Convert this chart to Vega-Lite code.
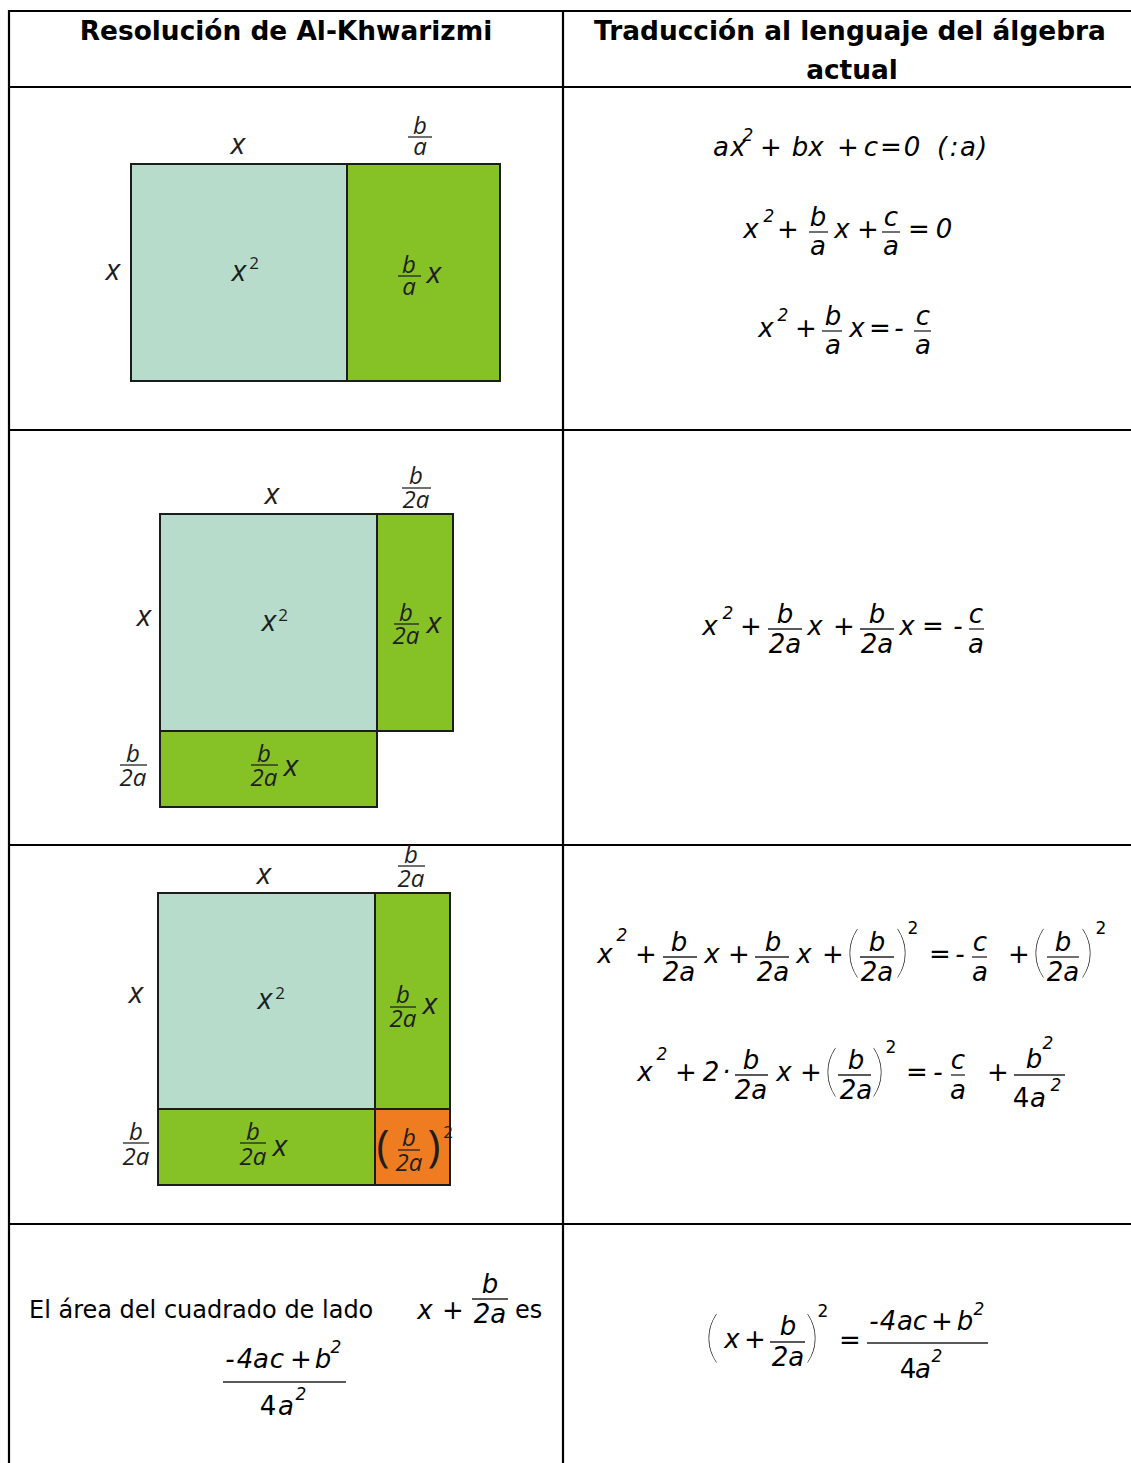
{
"$schema":"https://vega.github.io/schema/vega-lite/v6.json",
"width":1131,"height":1463,"padding":0,"autosize":{"type":"none"},
"background":"white",
"config":{"view":{"stroke":null}},
"data":{"values":[
{"role":"grid","x":8,"x2":1131,"y":11,"y2":11},
{"role":"grid","x":9,"x2":9,"y":10,"y2":1463},
{"role":"grid","x":563,"x2":563,"y":10,"y2":1463},
{"role":"grid","x":8,"x2":1131,"y":87,"y2":87},
{"role":"grid","x":8,"x2":1131,"y":430,"y2":430},
{"role":"grid","x":8,"x2":1131,"y":845,"y2":845},
{"role":"grid","x":8,"x2":1131,"y":1224,"y2":1224},
{"role":"box","part":"light","x":131,"x2":347,"y":164,"y2":381},
{"role":"box","part":"green","x":347,"x2":500,"y":164,"y2":381},
{"role":"box","part":"light","x":160,"x2":377,"y":514,"y2":731},
{"role":"box","part":"green","x":377,"x2":453,"y":514,"y2":731},
{"role":"box","part":"green","x":160,"x2":377,"y":731,"y2":807},
{"role":"box","part":"light","x":158,"x2":375,"y":893,"y2":1109},
{"role":"box","part":"green","x":375,"x2":450,"y":893,"y2":1109},
{"role":"box","part":"green","x":158,"x2":375,"y":1109,"y2":1185},
{"role":"box","part":"orange","x":375,"x2":450,"y":1109,"y2":1185},
{"role":"head","x":286,"y":40,"t":"Resolución de Al-Khwarizmi"},
{"role":"head","x":850,"y":40,"t":"Traducción al lenguaje del álgebra"},
{"role":"head","x":852,"y":79,"t":"actual"},
{"role":"dg","x":238,"y":154,"t":"x"},
{"role":"dgf","x":420,"y":134,"t":"b"},
{"role":"bar","x":408,"x2":432,"y":137},
{"role":"dgf","x":420,"y":155,"t":"a"},
{"role":"dg","x":113,"y":280,"t":"x"},
{"role":"dg","x":239,"y":281,"t":"x"},
{"role":"dsup","x":254,"y":269,"t":"2"},
{"role":"dgf","x":409,"y":273,"t":"b"},
{"role":"bar","x":398,"x2":421,"y":276},
{"role":"dgf","x":409,"y":295,"t":"a"},
{"role":"dg","x":434,"y":283,"t":"x"},
{"role":"dg","x":272,"y":504,"t":"x"},
{"role":"dgf","x":416,"y":484,"t":"b"},
{"role":"bar","x":402,"x2":431,"y":488},
{"role":"dgf","x":416,"y":508,"t":"2a"},
{"role":"dg","x":144,"y":626,"t":"x"},
{"role":"dg","x":269,"y":631,"t":"x"},
{"role":"dsup","x":283,"y":621,"t":"2"},
{"role":"dgf","x":406,"y":621,"t":"b"},
{"role":"bar","x":394,"x2":419,"y":624},
{"role":"dgf","x":406,"y":644,"t":"2a"},
{"role":"dg","x":434,"y":633,"t":"x"},
{"role":"dgf","x":133,"y":762,"t":"b"},
{"role":"bar","x":120,"x2":147,"y":765},
{"role":"dgf","x":133,"y":786,"t":"2a"},
{"role":"dgf","x":264,"y":762,"t":"b"},
{"role":"bar","x":251,"x2":278,"y":765},
{"role":"dgf","x":264,"y":786,"t":"2a"},
{"role":"dg","x":291,"y":776,"t":"x"},
{"role":"dg","x":264,"y":884,"t":"x"},
{"role":"dgf","x":411,"y":863,"t":"b"},
{"role":"bar","x":398,"x2":425,"y":866},
{"role":"dgf","x":411,"y":887,"t":"2a"},
{"role":"dg","x":136,"y":1003,"t":"x"},
{"role":"dg","x":265,"y":1009,"t":"x"},
{"role":"dsup","x":280,"y":999,"t":"2"},
{"role":"dgf","x":403,"y":1003,"t":"b"},
{"role":"bar","x":390,"x2":416,"y":1007},
{"role":"dgf","x":403,"y":1027,"t":"2a"},
{"role":"dg","x":430,"y":1014,"t":"x"},
{"role":"dgf","x":136,"y":1140,"t":"b"},
{"role":"bar","x":123,"x2":149,"y":1143},
{"role":"dgf","x":136,"y":1165,"t":"2a"},
{"role":"dgf","x":253,"y":1140,"t":"b"},
{"role":"bar","x":240,"x2":266,"y":1143},
{"role":"dgf","x":253,"y":1165,"t":"2a"},
{"role":"dg","x":280,"y":1156,"t":"x"},
{"role":"dpar","x":383,"y":1161,"t":"("},
{"role":"dgf","x":409,"y":1146,"t":"b"},
{"role":"bar","x":398,"x2":420,"y":1150},
{"role":"dgf","x":409,"y":1171,"t":"2a"},
{"role":"dpar","x":434,"y":1161,"t":")"},
{"role":"dsup","x":448,"y":1138,"t":"2"},
{"role":"eq","x":721,"y":156,"t":"a"},
{"role":"eq","x":738,"y":156,"t":"x"},
{"role":"esup","x":748,"y":141,"t":"2"},
{"role":"eq","x":771,"y":156,"t":"+"},
{"role":"eq","x":800,"y":156,"t":"b"},
{"role":"eq","x":816,"y":156,"t":"x"},
{"role":"eq","x":848,"y":156,"t":"+"},
{"role":"eq","x":871,"y":156,"t":"c"},
{"role":"eq","x":891,"y":156,"t":"="},
{"role":"eq","x":912,"y":156,"t":"0"},
{"role":"eq","x":942,"y":156,"t":"("},
{"role":"eq","x":954,"y":156,"t":":"},
{"role":"eq","x":968,"y":156,"t":"a"},
{"role":"eq","x":982,"y":156,"t":")"},
{"role":"eq","x":751,"y":238,"t":"x"},
{"role":"esup","x":769,"y":222,"t":"2"},
{"role":"eq","x":788,"y":238,"t":"+"},
{"role":"eq","x":818,"y":226,"t":"b"},
{"role":"bar","x":809,"x2":828,"y":232},
{"role":"eq","x":818,"y":255,"t":"a"},
{"role":"eq","x":842,"y":238,"t":"x"},
{"role":"eq","x":868,"y":238,"t":"+"},
{"role":"eq","x":891,"y":226,"t":"c"},
{"role":"bar","x":882,"x2":900,"y":232},
{"role":"eq","x":891,"y":255,"t":"a"},
{"role":"eq","x":919,"y":238,"t":"="},
{"role":"eq","x":944,"y":238,"t":"0"},
{"role":"eq","x":766,"y":337,"t":"x"},
{"role":"esup","x":783,"y":321,"t":"2"},
{"role":"eq","x":806,"y":337,"t":"+"},
{"role":"eq","x":833,"y":325,"t":"b"},
{"role":"bar","x":822,"x2":842,"y":331},
{"role":"eq","x":833,"y":354,"t":"a"},
{"role":"eq","x":857,"y":337,"t":"x"},
{"role":"eq","x":880,"y":337,"t":"="},
{"role":"eq","x":899,"y":337,"t":"-"},
{"role":"eq","x":923,"y":325,"t":"c"},
{"role":"bar","x":914,"x2":931,"y":331},
{"role":"eq","x":923,"y":354,"t":"a"},
{"role":"eq","x":710,"y":635,"t":"x"},
{"role":"esup","x":728,"y":619,"t":"2"},
{"role":"eq","x":751,"y":635,"t":"+"},
{"role":"eq","x":785,"y":623,"t":"b"},
{"role":"bar","x":768,"x2":802,"y":629},
{"role":"eq","x":785,"y":653,"t":"2a"},
{"role":"eq","x":815,"y":635,"t":"x"},
{"role":"eq","x":844,"y":635,"t":"+"},
{"role":"eq","x":877,"y":623,"t":"b"},
{"role":"bar","x":860,"x2":894,"y":629},
{"role":"eq","x":877,"y":653,"t":"2a"},
{"role":"eq","x":907,"y":635,"t":"x"},
{"role":"eq","x":933,"y":635,"t":"="},
{"role":"eq","x":958,"y":635,"t":"-"},
{"role":"eq","x":976,"y":623,"t":"c"},
{"role":"bar","x":969,"x2":984,"y":629},
{"role":"eq","x":976,"y":653,"t":"a"},
{"role":"eq","x":605,"y":963,"t":"x"},
{"role":"esup","x":622,"y":941,"t":"2"},
{"role":"eq","x":646,"y":963,"t":"+"},
{"role":"eq","x":679,"y":951,"t":"b"},
{"role":"bar","x":663,"x2":697,"y":957},
{"role":"eq","x":679,"y":981,"t":"2a"},
{"role":"eq","x":712,"y":963,"t":"x"},
{"role":"eq","x":739,"y":963,"t":"+"},
{"role":"eq","x":773,"y":951,"t":"b"},
{"role":"bar","x":755,"x2":789,"y":957},
{"role":"eq","x":773,"y":981,"t":"2a"},
{"role":"eq","x":804,"y":963,"t":"x"},
{"role":"eq","x":833,"y":963,"t":"+"},
{"role":"epar","x":853,"y":971,"t":"("},
{"role":"eq","x":877,"y":951,"t":"b"},
{"role":"bar","x":860,"x2":894,"y":957},
{"role":"eq","x":877,"y":981,"t":"2a"},
{"role":"epar","x":902,"y":971,"t":")"},
{"role":"eusup","x":913,"y":934,"t":"2"},
{"role":"eq","x":940,"y":963,"t":"="},
{"role":"eq","x":960,"y":963,"t":"-"},
{"role":"eq","x":980,"y":951,"t":"c"},
{"role":"bar","x":972,"x2":987,"y":957},
{"role":"eq","x":980,"y":981,"t":"a"},
{"role":"eq","x":1019,"y":963,"t":"+"},
{"role":"epar","x":1039,"y":971,"t":"("},
{"role":"eq","x":1063,"y":951,"t":"b"},
{"role":"bar","x":1047,"x2":1079,"y":957},
{"role":"eq","x":1063,"y":981,"t":"2a"},
{"role":"epar","x":1087,"y":971,"t":")"},
{"role":"eusup","x":1101,"y":934,"t":"2"},
{"role":"eq","x":645,"y":1081,"t":"x"},
{"role":"esup","x":662,"y":1060,"t":"2"},
{"role":"eq","x":686,"y":1081,"t":"+"},
{"role":"eq","x":711,"y":1081,"t":"2"},
{"role":"eq","x":726,"y":1081,"t":"·"},
{"role":"eq","x":751,"y":1069,"t":"b"},
{"role":"bar","x":735,"x2":768,"y":1075},
{"role":"eq","x":751,"y":1099,"t":"2a"},
{"role":"eq","x":784,"y":1081,"t":"x"},
{"role":"eq","x":811,"y":1081,"t":"+"},
{"role":"epar","x":831,"y":1090,"t":"("},
{"role":"eq","x":856,"y":1069,"t":"b"},
{"role":"bar","x":838,"x2":871,"y":1075},
{"role":"eq","x":856,"y":1099,"t":"2a"},
{"role":"epar","x":878,"y":1090,"t":")"},
{"role":"eusup","x":891,"y":1053,"t":"2"},
{"role":"eq","x":917,"y":1081,"t":"="},
{"role":"eq","x":938,"y":1081,"t":"-"},
{"role":"eq","x":958,"y":1069,"t":"c"},
{"role":"bar","x":951,"x2":965,"y":1075},
{"role":"eq","x":958,"y":1099,"t":"a"},
{"role":"eq","x":998,"y":1081,"t":"+"},
{"role":"eq","x":1034,"y":1068,"t":"b"},
{"role":"esup","x":1048,"y":1049,"t":"2"},
{"role":"bar","x":1014,"x2":1065,"y":1075},
{"role":"equp","x":1021,"y":1107,"t":"4"},
{"role":"eq","x":1038,"y":1107,"t":"a"},
{"role":"esup","x":1056,"y":1091,"t":"2"},
{"role":"body","x":29,"y":1318,"t":"El área del cuadrado de lado"},
{"role":"eq","x":425,"y":1319,"t":"x"},
{"role":"eq","x":453,"y":1319,"t":"+"},
{"role":"eq","x":490,"y":1293,"t":"b"},
{"role":"bar","x":472,"x2":508,"y":1299},
{"role":"eq","x":490,"y":1323,"t":"2a"},
{"role":"body","x":515,"y":1318,"t":"es"},
{"role":"eq","x":230,"y":1368,"t":"-"},
{"role":"eq","x":245,"y":1368,"t":"4"},
{"role":"eq","x":261,"y":1368,"t":"a"},
{"role":"eq","x":277,"y":1368,"t":"c"},
{"role":"eq","x":301,"y":1368,"t":"+"},
{"role":"eq","x":323,"y":1368,"t":"b"},
{"role":"esup","x":336,"y":1353,"t":"2"},
{"role":"bar","x":223,"x2":346,"y":1382},
{"role":"equp","x":268,"y":1415,"t":"4"},
{"role":"eq","x":286,"y":1415,"t":"a"},
{"role":"esup","x":301,"y":1400,"t":"2"},
{"role":"epar","x":712,"y":1356,"t":"("},
{"role":"eq","x":732,"y":1348,"t":"x"},
{"role":"eq","x":755,"y":1348,"t":"+"},
{"role":"eq","x":788,"y":1335,"t":"b"},
{"role":"bar","x":770,"x2":805,"y":1342},
{"role":"eq","x":788,"y":1366,"t":"2a"},
{"role":"epar","x":812,"y":1356,"t":")"},
{"role":"eusup","x":823,"y":1317,"t":"2"},
{"role":"eq","x":850,"y":1349,"t":"="},
{"role":"bar","x":867,"x2":988,"y":1343},
{"role":"eq","x":874,"y":1330,"t":"-"},
{"role":"eq","x":888,"y":1330,"t":"4"},
{"role":"eq","x":905,"y":1330,"t":"a"},
{"role":"eq","x":920,"y":1330,"t":"c"},
{"role":"eq","x":942,"y":1330,"t":"+"},
{"role":"eq","x":965,"y":1330,"t":"b"},
{"role":"esup","x":979,"y":1315,"t":"2"},
{"role":"equp","x":908,"y":1378,"t":"4"},
{"role":"eq","x":923,"y":1378,"t":"a"},
{"role":"esup","x":937,"y":1362,"t":"2"}
]},
"encoding":{
"x":{"field":"x","type":"quantitative","scale":{"domain":[0,1131],"nice":false,"zero":false},"axis":null},
"y":{"field":"y","type":"quantitative","scale":{"domain":[0,1463],"nice":false,"zero":false,"reverse":true},"axis":null}
},
"layer":[
{"transform":[{"filter":"datum.role==='box'"}],"mark":{"type":"rect","stroke":"#1c1c1c","strokeWidth":2},
 "encoding":{"x2":{"field":"x2"},"y2":{"field":"y2"},"color":{"field":"part","type":"nominal","scale":{"domain":["light","green","orange"],"range":["#b7dccb","#86c126","#ef7c20"]},"legend":null}}},
{"transform":[{"filter":"datum.role==='grid'"}],"mark":{"type":"rule","color":"#000","strokeWidth":2.2},
 "encoding":{"x2":{"field":"x2"},"y2":{"field":"y2"}}},
{"transform":[{"filter":"datum.role==='bar'"}],"mark":{"type":"rule","color":"#222","strokeWidth":1.3},
 "encoding":{"x2":{"field":"x2"}}},
{"transform":[{"filter":"datum.role==='head'"}],"mark":{"type":"text","font":"DejaVu Sans","fontWeight":"bold","fontSize":26.4,"align":"center","baseline":"alphabetic","color":"#000"},
 "encoding":{"text":{"field":"t"}}},
{"transform":[{"filter":"datum.role==='body'"}],"mark":{"type":"text","font":"DejaVu Sans","fontSize":24,"align":"left","baseline":"alphabetic","color":"#000"},
 "encoding":{"text":{"field":"t"}}},
{"transform":[{"filter":"datum.role==='eq'"}],"mark":{"type":"text","font":"DejaVu Sans","fontStyle":"italic","fontSize":26,"align":"center","baseline":"alphabetic","color":"#000"},
 "encoding":{"text":{"field":"t"}}},
{"transform":[{"filter":"datum.role==='equp'"}],"mark":{"type":"text","font":"DejaVu Sans","fontSize":26,"align":"center","baseline":"alphabetic","color":"#000"},
 "encoding":{"text":{"field":"t"}}},
{"transform":[{"filter":"datum.role==='esup'"}],"mark":{"type":"text","font":"DejaVu Sans","fontStyle":"italic","fontSize":17,"align":"center","baseline":"alphabetic","color":"#000"},
 "encoding":{"text":{"field":"t"}}},
{"transform":[{"filter":"datum.role==='eusup'"}],"mark":{"type":"text","font":"DejaVu Sans","fontSize":17,"align":"center","baseline":"alphabetic","color":"#000"},
 "encoding":{"text":{"field":"t"}}},
{"transform":[{"filter":"datum.role==='epar'"}],"mark":{"type":"text","font":"Lato","fontWeight":200,"fontSize":56,"align":"center","baseline":"alphabetic","color":"#000"},
 "encoding":{"text":{"field":"t"}}},
{"transform":[{"filter":"datum.role==='dg'"}],"mark":{"type":"text","font":"Open Sans","fontStyle":"italic","fontSize":30,"align":"center","baseline":"alphabetic","color":"#1e1e1e"},
 "encoding":{"text":{"field":"t"}}},
{"transform":[{"filter":"datum.role==='dgf'"}],"mark":{"type":"text","font":"Open Sans","fontStyle":"italic","fontSize":24,"align":"center","baseline":"alphabetic","color":"#1e1e1e"},
 "encoding":{"text":{"field":"t"}}},
{"transform":[{"filter":"datum.role==='dsup'"}],"mark":{"type":"text","font":"Open Sans","fontSize":17,"align":"center","baseline":"alphabetic","color":"#1e1e1e"},
 "encoding":{"text":{"field":"t"}}},
{"transform":[{"filter":"datum.role==='dpar'"}],"mark":{"type":"text","font":"Open Sans","fontSize":44,"align":"center","baseline":"alphabetic","color":"#1e1e1e"},
 "encoding":{"text":{"field":"t"}}}
]
}
